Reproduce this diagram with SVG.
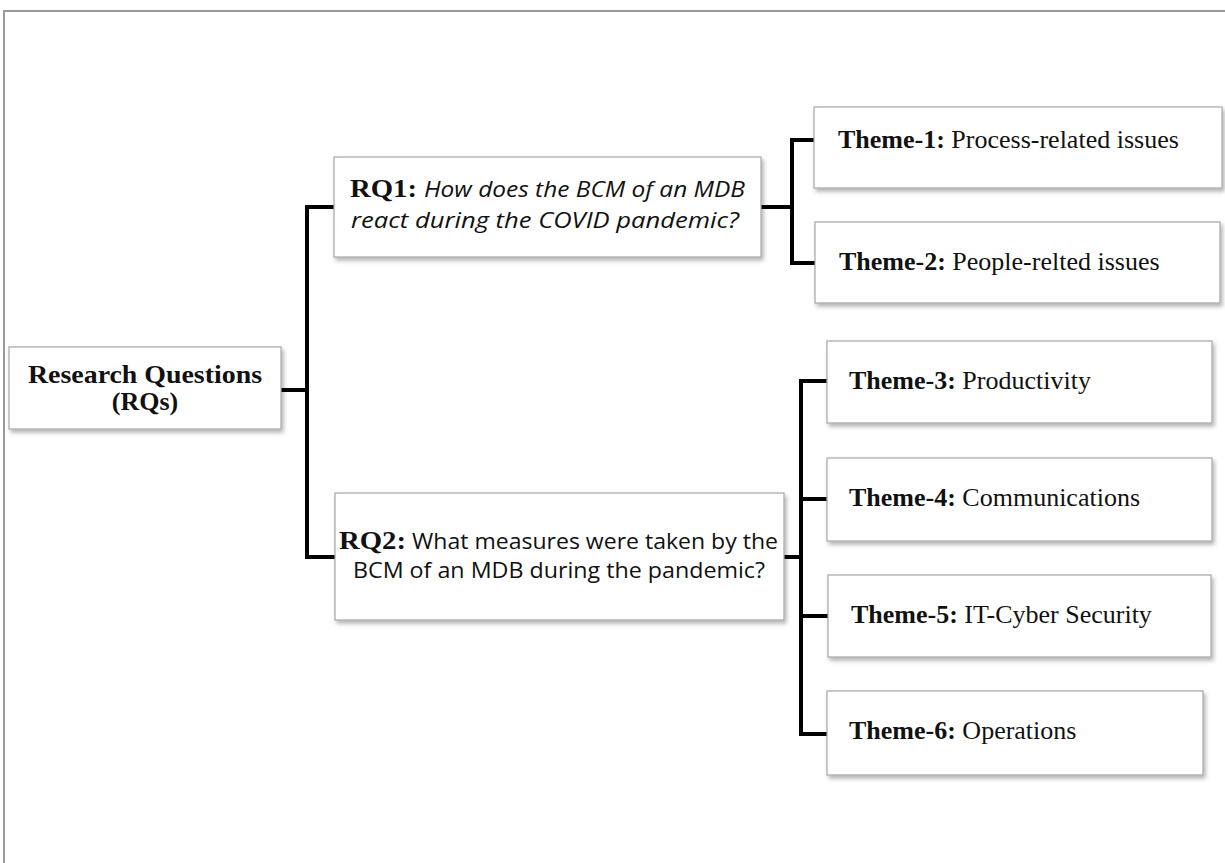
<svg xmlns="http://www.w3.org/2000/svg" width="1225" height="863" viewBox="0 0 1225 863">
<style>
.box{fill:#fff;stroke:#a6a6a6;stroke-width:1.2;filter:url(#sh)}
.conn{fill:none;stroke:#000;stroke-width:4;stroke-linecap:square}
.serif{font-family:"Liberation Serif","Times New Roman",serif;font-size:26px;fill:#111}
.b{font-weight:bold}
.sans{font-family:"Open Sans","Noto Sans",sans-serif;font-size:22px;fill:#111}
.it{font-style:italic}
</style>
<defs>
<filter id="sh" x="-5%" y="-10%" width="115%" height="130%">
<feDropShadow dx="2" dy="3" stdDeviation="2" flood-color="#000" flood-opacity="0.3"/>
</filter>
</defs>
<rect x="0" y="0" width="1225" height="863" fill="#fff"/>
<path d="M4 863 V11 H1225" fill="none" stroke="#9a9a9a" stroke-width="2"/>
<g id="connectors">
<path class="conn" d="M281 390 H307 M307 207 V557 M307 207 H334 M307 557 H335"/>
<path class="conn" d="M761 207 H792 M792 140 V263 M792 140 H814 M792 263 H815"/>
<path class="conn" d="M784 557 H801 M801 381 V734 M801 381 H827 M801 499 H827 M801 616 H828 M801 734 H827"/>
</g>
<g id="rqs">
<rect class="box" x="9" y="347" width="272" height="82"/>
<text class="serif b" x="145" y="383" text-anchor="middle" font-size="26" textLength="234" lengthAdjust="spacingAndGlyphs">Research Questions</text>
<text class="serif b" x="145" y="410" text-anchor="middle" font-size="26">(RQs)</text>
</g>
<g id="rq1">
<rect class="box" x="334" y="157" width="427" height="100"/>
<text class="serif b" x="350" y="197" font-size="26" textLength="67" lengthAdjust="spacingAndGlyphs">RQ1:</text>
<text class="sans it" x="424" y="197" textLength="321" lengthAdjust="spacingAndGlyphs">How does the BCM of an MDB</text>
<text class="sans it" x="351" y="228" textLength="388" lengthAdjust="spacingAndGlyphs">react during the COVID pandemic?</text>
</g>
<g id="rq2">
<rect class="box" x="335" y="493" width="449" height="127"/>
<text class="serif b" x="339" y="549" font-size="27" textLength="67" lengthAdjust="spacingAndGlyphs">RQ2:</text>
<text class="sans" x="412" y="549" textLength="366" lengthAdjust="spacingAndGlyphs">What measures were taken by the</text>
<text class="sans" x="353" y="578" textLength="412" lengthAdjust="spacingAndGlyphs">BCM of an MDB during the pandemic?</text>
</g>
<g id="theme1">
<rect class="box" x="814" y="107" width="408" height="81"/>
<text class="serif" x="838" y="148"><tspan class="b">Theme-1:</tspan> Process-related issues</text>
</g>
<g id="theme2">
<rect class="box" x="815" y="222" width="405" height="81"/>
<text class="serif" x="839" y="270"><tspan class="b">Theme-2:</tspan> People-relted issues</text>
</g>
<g id="theme3">
<rect class="box" x="827" y="341" width="385" height="82"/>
<text class="serif" x="849" y="389" font-size="26.5"><tspan class="b">Theme-3:</tspan> Productivity</text>
</g>
<g id="theme4">
<rect class="box" x="827" y="458" width="385" height="83"/>
<text class="serif" x="849" y="506" font-size="26.5"><tspan class="b">Theme-4:</tspan> Communications</text>
</g>
<g id="theme5">
<rect class="box" x="828" y="575" width="383" height="82"/>
<text class="serif" x="851" y="623" font-size="26.5"><tspan class="b">Theme-5:</tspan> IT-Cyber Security</text>
</g>
<g id="theme6">
<rect class="box" x="827" y="691" width="376" height="84"/>
<text class="serif" x="849" y="739" font-size="26.5"><tspan class="b">Theme-6:</tspan> Operations</text>
</g>
</svg>
